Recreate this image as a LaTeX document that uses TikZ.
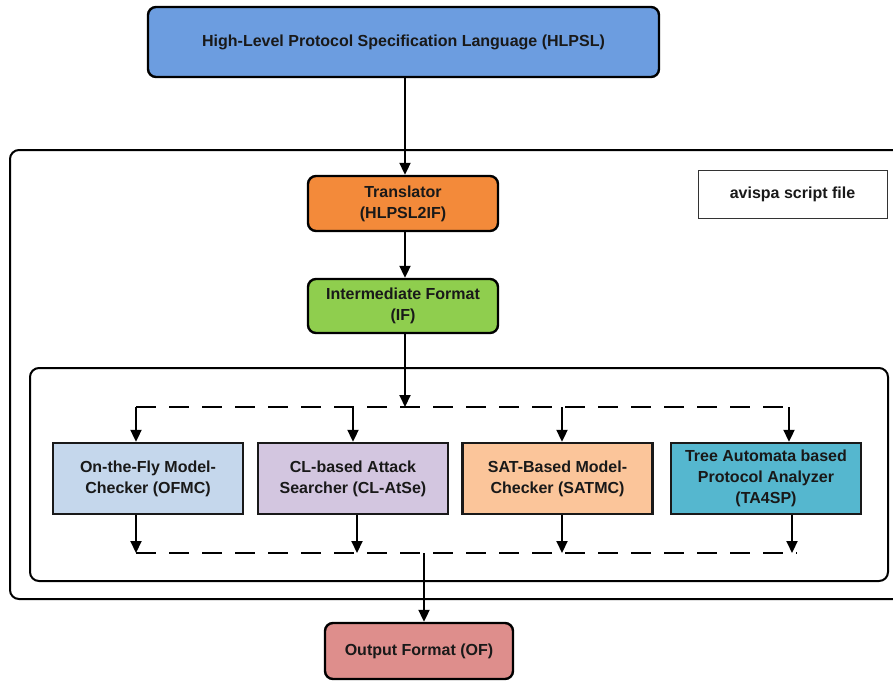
\documentclass[tikz,border=0pt]{standalone}
\usepackage{fontspec}
\setmainfont{Liberation Sans}
\usetikzlibrary{arrows.meta}
\definecolor{hlpslblue}{HTML}{6C9DE0}
\definecolor{transorange}{HTML}{F38A3A}
\definecolor{ifgreen}{HTML}{8FCE4E}
\definecolor{ofmcblue}{HTML}{C5D7EC}
\definecolor{cllilac}{HTML}{D3C6E0}
\definecolor{satpeach}{HTML}{FBC59A}
\definecolor{tacyan}{HTML}{55B7CF}
\definecolor{ofpink}{HTML}{DE8E8C}
\tikzset{
  lbl/.style={font=\fontsize{16}{21}\selectfont\bfseries, align=center, text=black!90},
  roundbox/.style={lbl, draw=black, line width=2.4pt, rounded corners=8pt, inner sep=0pt},
  toolbox/.style={lbl, draw=black!90, line width=2.4pt, inner sep=0pt, minimum width=190pt, minimum height=71pt},
  frame/.style={draw=black, line width=2pt, rounded corners=9pt},
  flow/.style={line width=2pt, -{Triangle[length=12pt,width=11pt]}},
  bus/.style={line width=2pt, dash pattern=on 20pt off 13pt}
}
\begin{document}
\begin{tikzpicture}[x=1pt,y=-1pt]
  \clip (0,0) rectangle (893,681);
  \fill[white] (0,0) rectangle (893,681);

  % containers
  \draw[frame] (10,150) rectangle (920,599);
  \draw[frame] (30,368) rectangle (888,581);

  % main chain
  \node[roundbox, fill=hlpslblue, minimum width=511pt, minimum height=70pt] (hlpsl) at (403.5,42) {High-Level Protocol Specification Language (HLPSL)};
  \node[lbl, draw=black!80, line width=1pt, minimum width=189pt, minimum height=48pt] (script) at (792.5,194) {avispa script file};
  \node[roundbox, fill=transorange, minimum width=190pt, minimum height=55pt] (trans) at (403,203.5) {Translator\\(HLPSL2IF)};
  \node[roundbox, fill=ifgreen, minimum width=190pt, minimum height=54pt] (if) at (403,306) {Intermediate Format\\(IF)};

  % back-end tools
  \node[toolbox, fill=ofmcblue] (ofmc) at (148,478.5) {On-the-Fly Model-\\Checker (OFMC)};
  \node[toolbox, fill=cllilac] (cl) at (353,478.5) {CL-based Attack\\Searcher (CL-AtSe)};
  \node[toolbox, fill=satpeach] (sat) at (557.5,478.5) {SAT-Based Model-\\Checker (SATMC)};
  \node[toolbox, fill=tacyan] (ta) at (766,478.5) {Tree Automata based\\Protocol Analyzer\\(TA4SP)};

  \node[roundbox, fill=ofpink, minimum width=188pt, minimum height=56pt] (of) at (419,651) {Output Format (OF)};

  % distribution bus
  \coordinate (split) at (405,407);
  \coordinate (d1) at (136,407);
  \coordinate (d2) at (353,407);
  \coordinate (d3) at (562,407);
  \coordinate (d4) at (789,407);
  \coordinate (c1) at (136,553);
  \coordinate (c2) at (357,553);
  \coordinate (c3) at (562,553);
  \coordinate (c4) at (792,553);
  \coordinate (cend) at (797,553);
  \coordinate (merge) at (424,553);

  \draw[flow] (hlpsl.south -| 405,0) -- (trans.north -| 405,0);
  \draw[flow] (trans.south -| 405,0) -- (if.north -| 405,0);
  \draw[flow] (if.south -| 405,0) -- (split);

  \draw[bus] (d1) -- (d4);
  \draw[flow] (d1) -- (ofmc.north -| d1);
  \draw[flow] (d2) -- (cl.north -| d2);
  \draw[flow] (d3) -- (sat.north -| d3);
  \draw[flow] (d4) -- (ta.north -| d4);

  \draw[flow] (ofmc.south -| c1) -- (c1);
  \draw[flow] (cl.south -| c2) -- (c2);
  \draw[flow] (sat.south -| c3) -- (c3);
  \draw[flow] (ta.south -| c4) -- (c4);
  \draw[bus] (c1) -- (cend);

  \draw[flow] (merge) -- (of.north -| merge);
\end{tikzpicture}
\end{document}
